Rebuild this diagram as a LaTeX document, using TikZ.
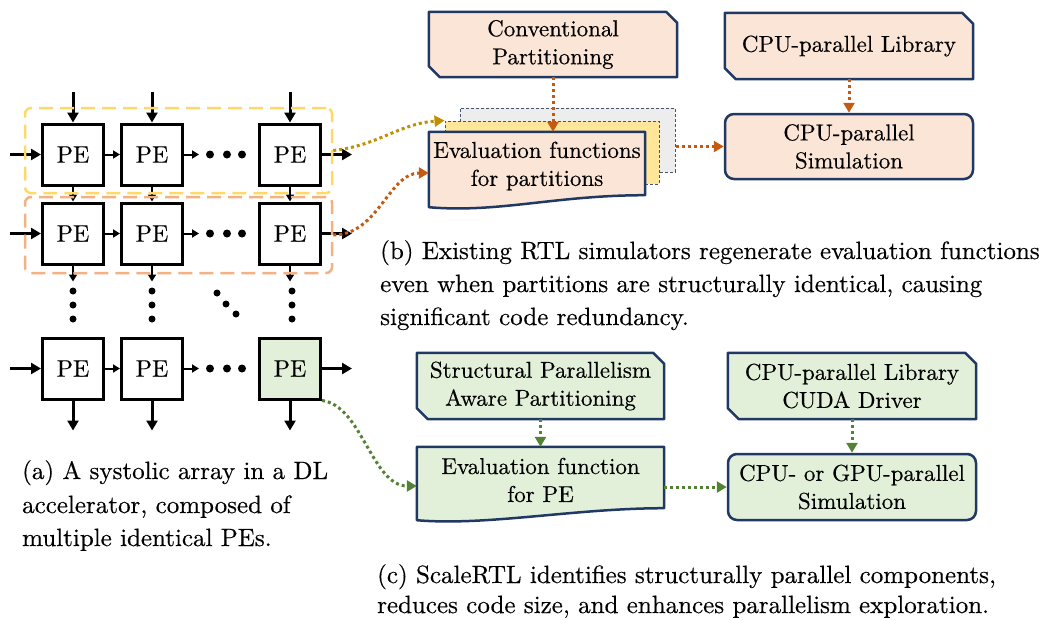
\documentclass[tikz,border=0pt]{standalone}
\usepackage{fontspec}
\setmainfont{lmroman10-regular.otf}[FakeBold=0.4]
\usetikzlibrary{arrows.meta,calc}

\pgfdeclarelayer{bg}
\pgfsetlayers{bg,main}

\definecolor{peach}{HTML}{FBE5D6}
\definecolor{mint}{HTML}{E2F0D9}
\definecolor{navy}{HTML}{1F3864}
\definecolor{stackedge}{HTML}{44546A}
\definecolor{stackgray}{HTML}{EDEDED}
\definecolor{stackyellow}{HTML}{FFE699}
\definecolor{grpyellow}{HTML}{FFD966}
\definecolor{grporange}{HTML}{F4B183}
\definecolor{flowgold}{HTML}{BF9000}
\definecolor{floworange}{HTML}{C55A11}
\definecolor{flowgreen}{HTML}{548235}

\newcommand\boxfont{\fontsize{23}{28}\selectfont}
\newcommand\pefont{\fontsize{24}{28}\selectfont}
\newcommand\capfont{\fontsize{25}{33}\selectfont}

% box with the top-right and bottom-left corners cut off
\newcommand\chamferbox[2]{%
  \path[draw=navy, line width=2.5pt, fill=#2, line join=round]
    (#1.north west) -- ($(#1.north east)+(-11,0)$) -- ($(#1.north east)+(0,11)$)
    -- (#1.south east) -- ($(#1.south west)+(11,0)$) -- ($(#1.south west)+(0,-11)$) -- cycle;}

% document symbol with a wavy lower edge
\newcommand\docshape[2]{%
  \path[draw=navy, line width=2.5pt, fill=#2, line join=round]
    ($(#1.south west)+(0,7)$) -- (#1.north west) -- (#1.north east)
    -- ($(#1.south east)+(0,-5)$) .. controls +(-90,0) and +(70,6) .. ($(#1.south west)+(0,7)$) -- cycle;}

\tikzset{
  pe/.style={draw=black, line width=3pt, fill=white, minimum width=61pt,
    minimum height=61pt, inner sep=0pt, font=\pefont},
  feed/.style={line width=3pt, -{Triangle[length=10pt,width=11pt]}},
  link/.style={line width=2pt, -{Triangle[length=7pt,width=8pt]}},
  grp/.style={rounded corners=6pt, line width=2.5pt, dash pattern=on 14pt off 7pt,
    minimum width=307pt, inner sep=0pt},
  blk/.style={minimum width=248pt, minimum height=65pt, inner sep=0pt,
    align=center, font=\boxfont},
  simbox/.style={blk, draw=navy, line width=2.5pt, rounded corners=9pt},
  stackdoc/.style={draw=stackedge, line width=1pt, dash pattern=on 3pt off 2pt,
    inner sep=0pt, minimum width=214pt, minimum height=63pt},
  flow/.style={line width=3pt, dash pattern=on 3pt off 3pt,
    -{Triangle[length=10pt,width=11pt]}},
  captext/.style={anchor=base west, inner sep=0pt, font=\capfont},
  pdot/.style={fill=black, circle, inner sep=0pt, minimum size=#1},
}

\begin{document}
\begin{tikzpicture}[x=1pt, y=-1pt]
\useasboundingbox (0,0) rectangle (1056,619);

% ---------------- systolic array ----------------
\foreach \r/\y in {1/154.5, 2/233.5, 3/368.5} {
  \node[pe] (pe\r1) at (73,\y) {PE};
  \node[pe] (pe\r2) at (152,\y) {PE};
  \node[pe] (pe\r3) at (290,\y) {PE};
  \draw[feed] ($(pe\r1.west)+(-31,0)$) -- (pe\r1.west);
  \draw[link] (pe\r1.east) -- (pe\r2.west);
  \draw[link] (pe\r2.east) -- ++(15,0);
  \draw[feed] (pe\r3.east) -- ++(30,0);
  \node[pdot=8pt] (hd\r a) at (210,\y) {};
  \node[pdot=8pt] (hd\r b) at (227,\y) {};
  \node[pdot=8pt] (hd\r c) at (242,\y) {};
}
\node[pe, fill=mint] at (pe33) {PE};

\foreach \c in {1,2,3} {
  \draw[feed] ($(pe1\c.north)+(0,-31)$) -- (pe1\c.north);
  \draw[link] (pe1\c.south) -- (pe2\c.north);
  \draw[link] (pe2\c.south) -- ++(0,16);
  \draw[feed] (pe3\c.south) -- ++(0,30);
}

% vertical and diagonal ellipses
\foreach \x in {73,152,292} {
  \foreach \y in {291,305,319} \node[pdot=7pt] at (\x,\y) {};
}
\node[pdot=7pt] (dg1) at (217,293) {};
\node[pdot=7pt] (dg2) at (226,304) {};
\node[pdot=7pt] (dg3) at (236,314) {};

% row partitions
\node[grp, draw=grpyellow, minimum height=85pt] (row1grp) at (178.5,150.5) {};
\node[grp, draw=grporange, minimum height=76pt] (row2grp) at (178.5,235) {};

% ---------------- (b) conventional flow ----------------
\node[blk] (convpart) at (553,44.5) {Conventional\\Partitioning};
\node[blk, minimum width=216pt, minimum height=68pt] (evalp) at (537,166)
  {Evaluation functions\\for partitions};
\node[blk, minimum height=66pt] (cpulib) at (849,46) {CPU-parallel Library};
\node[simbox, fill=peach] (cpusim) at (849,146.5) {CPU-parallel\\Simulation};

\begin{pgfonlayer}{bg}
  \node[stackdoc, fill=stackgray, minimum width=215pt, minimum height=64pt] (stack2) at (567.5,140) {};
  \node[stackdoc, fill=stackyellow] (stack1) at (552,152.5) {};
  \docshape{evalp}{peach}
  \chamferbox{convpart}{peach}
  \chamferbox{cpulib}{peach}
\end{pgfonlayer}

\draw[flow, floworange] (convpart.south) -- (convpart.south |- evalp.north);
\draw[flow, floworange] (cpulib.south) -- (cpusim.north);
\draw[flow, floworange] (stack2.east |- cpusim.west) -- (cpusim.west);
\draw[flow, flowgold] (row1grp.east) .. controls +(45,-5) and +(-45,3) .. (stack1.north west);
\draw[flow, floworange] (row2grp.east) .. controls +(45,0) and +(-40,0) .. ($(evalp.west)+(0,7)$);

% ---------------- (c) ScaleRTL flow ----------------
\node[blk, minimum width=247pt, minimum height=66pt] (spap) at (540.5,386)
  {Structural Parallelism\\Aware Partitioning};
\node[blk, minimum width=247pt, minimum height=66pt] (evalpe) at (540.5,480)
  {Evaluation function\\for PE};
\node[blk, minimum height=66pt] (cudalib) at (852,386)
  {CPU-parallel Library\\CUDA Driver};
\node[simbox, fill=mint, minimum height=66pt] (gpusim) at (852,487)
  {CPU- or GPU-parallel\\Simulation};

\begin{pgfonlayer}{bg}
  \chamferbox{spap}{mint}
  \chamferbox{cudalib}{mint}
  \docshape{evalpe}{mint}
\end{pgfonlayer}

\draw[flow, flowgreen] (spap.south) -- (evalpe.north);
\draw[flow, flowgreen] (cudalib.south) -- (gpusim.north);
\draw[flow, flowgreen] (evalpe.east |- gpusim.west) -- (gpusim.west);
\draw[flow, flowgreen] (pe33.south east) .. controls +(40,5) and +(-45,0) .. ($(evalpe.west)+(0,6)$);

% ---------------- captions ----------------
\node[captext] (capa1) at (22,479) {(a) A systolic array in a DL};
\node[captext] (capa2) at (22,513) {accelerator, composed of};
\node[captext] (capa3) at (22,546) {multiple identical PEs.};

\node[captext] (capb1) at (380,259) {(b) Existing RTL simulators regenerate evaluation functions};
\node[captext] (capb2) at (380,292) {even when partitions are structurally identical, causing};
\node[captext] (capb3) at (380,325) {significant code redundancy.};

\node[captext] (capc1) at (377,583) {(c) ScaleRTL identifies structurally parallel components,};
\node[captext] (capc2) at (377,613) {reduces code size, and enhances parallelism exploration.};
\end{tikzpicture}
\end{document}
